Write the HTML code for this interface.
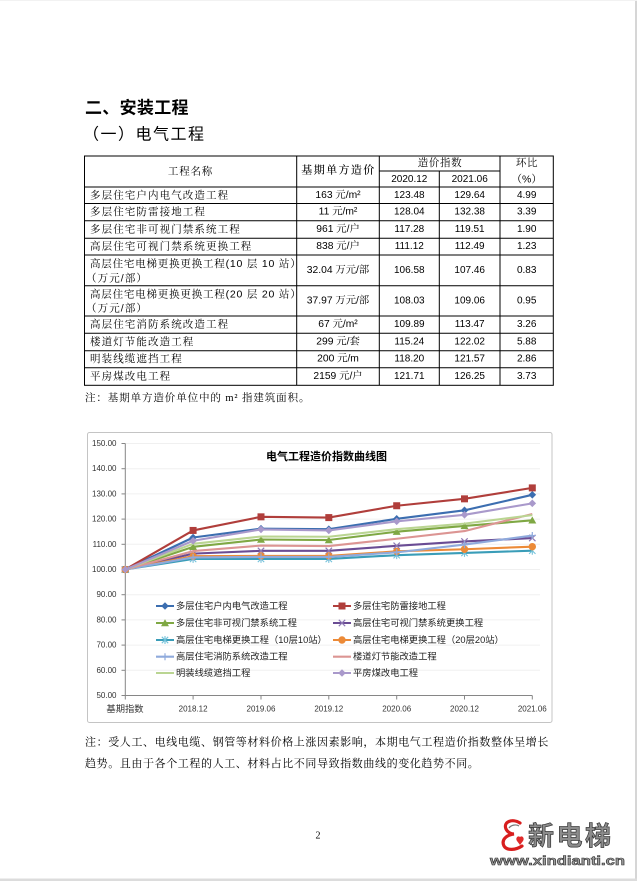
<!DOCTYPE html>
<html><head><meta charset="utf-8"><style>
html,body{margin:0;padding:0;background:#fff;}
svg{display:block;}
</style></head><body>
<svg width="637" height="881" viewBox="0 0 637 881" xmlns="http://www.w3.org/2000/svg">
<defs>
<marker id="m1" markerWidth="10" markerHeight="10" refX="5" refY="5" markerUnits="userSpaceOnUse"><path d="M5,1.2 L8.8,5 L5,8.8 L1.2,5Z" fill="#3C6EB0"/></marker>
<marker id="m2" markerWidth="10" markerHeight="10" refX="5" refY="5" markerUnits="userSpaceOnUse"><rect x="1.5" y="1.5" width="7" height="7" fill="#B03E3B"/></marker>
<marker id="m3" markerWidth="10" markerHeight="10" refX="5" refY="5" markerUnits="userSpaceOnUse"><path d="M5,1.2 L9,8.2 L1,8.2Z" fill="#7FA844"/></marker>
<marker id="m4" markerWidth="10" markerHeight="10" refX="5" refY="5" markerUnits="userSpaceOnUse"><path d="M1.8,1.8 L8.2,8.2 M8.2,1.8 L1.8,8.2" stroke="#8E79B5" stroke-width="1.2"/></marker>
<marker id="m5" markerWidth="10" markerHeight="10" refX="5" refY="5" markerUnits="userSpaceOnUse"><path d="M1.8,1.8 L8.2,8.2 M8.2,1.8 L1.8,8.2 M5,1 L5,9" stroke="#74C2DA" stroke-width="1.1"/></marker>
<marker id="m6" markerWidth="10" markerHeight="10" refX="5" refY="5" markerUnits="userSpaceOnUse"><circle cx="5" cy="5" r="3.7" fill="#EC8A37"/></marker>
<marker id="m7" markerWidth="10" markerHeight="10" refX="5" refY="5" markerUnits="userSpaceOnUse"><path d="M1.5,5 L8.5,5 M5,1.5 L5,8.5" stroke="#8FAADC" stroke-width="1.2"/></marker>
<marker id="m10" markerWidth="10" markerHeight="10" refX="5" refY="5" markerUnits="userSpaceOnUse"><path d="M5,1.2 L8.8,5 L5,8.8 L1.2,5Z" fill="#A999CB"/></marker>
</defs>

<!-- page border -->
<rect x="635" y="0" width="2" height="881" fill="#d6d6d6"/>
<rect x="0" y="878.5" width="637" height="2.5" fill="#dcdcdc"/>
<rect x="0" y="0" width="637" height="1" fill="#f2f2f2"/>

<!-- headings -->
<text x="85" y="108" dominant-baseline="central" font-family="Liberation Sans, Noto Sans CJK SC, sans-serif" font-size="17" font-weight="700" letter-spacing="0.3" fill="#000">二、安装工程</text>
<text x="83" y="135" dominant-baseline="central" font-family="Liberation Sans, Noto Sans CJK SC, sans-serif" font-size="16" font-weight="400" letter-spacing="1.5" fill="#000">（一）电气工程</text>

<!-- table lines -->
<g stroke="#000" stroke-width="1" fill="none">
<rect x="84.5" y="156" width="468.8" height="229.3"/>
<line x1="296.7" y1="156" x2="296.7" y2="385.3"/>
<line x1="379.3" y1="156" x2="379.3" y2="385.3"/>
<line x1="439.3" y1="171" x2="439.3" y2="385.3"/>
<line x1="500" y1="156" x2="500" y2="385.3"/>
<line x1="379.3" y1="171" x2="500" y2="171"/>
<line x1="84.5" y1="187" x2="553.3" y2="187"/>
<line x1="84.5" y1="203.5" x2="553.3" y2="203.5"/>
<line x1="84.5" y1="220.8" x2="553.3" y2="220.8"/>
<line x1="84.5" y1="238.3" x2="553.3" y2="238.3"/>
<line x1="84.5" y1="255" x2="553.3" y2="255"/>
<line x1="84.5" y1="285.7" x2="553.3" y2="285.7"/>
<line x1="84.5" y1="316" x2="553.3" y2="316"/>
<line x1="84.5" y1="333.3" x2="553.3" y2="333.3"/>
<line x1="84.5" y1="350.7" x2="553.3" y2="350.7"/>
<line x1="84.5" y1="367.7" x2="553.3" y2="367.7"/>
</g>

<!-- table header -->
<g font-family="Liberation Sans, Noto Serif CJK SC, serif" fill="#000" dominant-baseline="central">
<text x="190.5" y="171.5" font-size="10.5" letter-spacing="0.8" text-anchor="middle">工程名称</text>
<text x="338.5" y="170.5" font-size="11" letter-spacing="1.4" text-anchor="middle" font-weight="500">基期单方造价</text>
<text x="440" y="163" font-size="10.5" letter-spacing="0.6" text-anchor="middle">造价指数</text>
<text x="409.3" y="179.3" font-size="10" text-anchor="middle">2020.12</text>
<text x="469.7" y="179.3" font-size="10" text-anchor="middle">2021.06</text>
<text x="527" y="163" font-size="10.5" letter-spacing="0.6" text-anchor="middle">环比</text>
<text x="526.7" y="179.3" font-size="10.5" text-anchor="middle">（%）</text>
</g>

<!-- table body col1 -->
<g font-family="Liberation Sans, Noto Serif CJK SC, serif" font-size="10.5" letter-spacing="1.1" fill="#000" dominant-baseline="central">
<text x="90" y="195.3">多层住宅户内电气改造工程</text>
<text x="90" y="212.2">多层住宅防雷接地工程</text>
<text x="90" y="229.6">多层住宅非可视门禁系统工程</text>
<text x="90" y="246.7">高层住宅可视门禁系统更换工程</text>
<text x="90" y="264" letter-spacing="0.8">高层住宅电梯更换更换工程(10 层 10 站）</text>
<text x="86" y="278.3">（万元/部）</text>
<text x="90" y="294.5" letter-spacing="0.8">高层住宅电梯更换更换工程(20 层 20 站）</text>
<text x="86" y="308.7">（万元/部）</text>
<text x="90" y="324.7">高层住宅消防系统改造工程</text>
<text x="90" y="342">楼道灯节能改造工程</text>
<text x="90" y="359.2">明装线缆遮挡工程</text>
<text x="90" y="376.5">平房煤改电工程</text>
</g>
<!-- col2 -->
<g font-family="Liberation Sans, Noto Serif CJK SC, serif" font-size="10.3" fill="#000" text-anchor="middle" dominant-baseline="central">
<text x="338" y="195.3">163 元/m²</text>
<text x="338" y="212.2">11 元/m²</text>
<text x="338" y="229.6">961 元/户</text>
<text x="338" y="246.7">838 元/户</text>
<text x="338" y="270.5">32.04 万元/部</text>
<text x="338" y="301">37.97 万元/部</text>
<text x="338" y="324.7">67 元/m²</text>
<text x="338" y="342">299 元/套</text>
<text x="338" y="359.2">200 元/m</text>
<text x="338" y="376.5">2159 元/户</text>
</g>
<!-- numbers -->
<g font-family="Liberation Sans, sans-serif" font-size="10" fill="#000" text-anchor="middle" dominant-baseline="central">
<text x="409.3" y="195.3">123.48</text><text x="469.7" y="195.3">129.64</text><text x="526.7" y="195.3">4.99</text>
<text x="409.3" y="212.2">128.04</text><text x="469.7" y="212.2">132.38</text><text x="526.7" y="212.2">3.39</text>
<text x="409.3" y="229.6">117.28</text><text x="469.7" y="229.6">119.51</text><text x="526.7" y="229.6">1.90</text>
<text x="409.3" y="246.7">111.12</text><text x="469.7" y="246.7">112.49</text><text x="526.7" y="246.7">1.23</text>
<text x="409.3" y="270.5">106.58</text><text x="469.7" y="270.5">107.46</text><text x="526.7" y="270.5">0.83</text>
<text x="409.3" y="301">108.03</text><text x="469.7" y="301">109.06</text><text x="526.7" y="301">0.95</text>
<text x="409.3" y="324.7">109.89</text><text x="469.7" y="324.7">113.47</text><text x="526.7" y="324.7">3.26</text>
<text x="409.3" y="342">115.24</text><text x="469.7" y="342">122.02</text><text x="526.7" y="342">5.88</text>
<text x="409.3" y="359.2">118.20</text><text x="469.7" y="359.2">121.57</text><text x="526.7" y="359.2">2.86</text>
<text x="409.3" y="376.5">121.71</text><text x="469.7" y="376.5">126.25</text><text x="526.7" y="376.5">3.73</text>
</g>

<text x="85" y="398.5" dominant-baseline="central" font-family="Liberation Serif, Noto Serif CJK SC, serif" font-size="10.5" letter-spacing="0.9" fill="#000">注：基期单方造价单位中的 m² 指建筑面积。</text>

<!-- chart frame -->
<rect x="87.5" y="432.5" width="464.5" height="290" rx="2" fill="#fff" stroke="#c4c4c4" stroke-width="1"/>

<!-- gridlines -->
<g stroke="#f0f0f0" stroke-width="1">
<line x1="125.3" y1="443.5" x2="540" y2="443.5"/>
<line x1="125.3" y1="468.7" x2="540" y2="468.7"/>
<line x1="125.3" y1="493.9" x2="540" y2="493.9"/>
<line x1="125.3" y1="519.1" x2="540" y2="519.1"/>
<line x1="125.3" y1="544.3" x2="540" y2="544.3"/>
<line x1="125.3" y1="569.5" x2="540" y2="569.5"/>
<line x1="125.3" y1="594.7" x2="540" y2="594.7"/>
<line x1="125.3" y1="619.9" x2="540" y2="619.9"/>
<line x1="125.3" y1="645.1" x2="540" y2="645.1"/>
<line x1="125.3" y1="670.3" x2="540" y2="670.3"/>
</g>

<!-- axes -->
<g stroke="#868686" stroke-width="1">
<line x1="125.3" y1="443.5" x2="125.3" y2="695.5"/>
<line x1="125.3" y1="695.5" x2="532.3" y2="695.5"/>
<line x1="121.5" y1="443.5" x2="125.3" y2="443.5"/>
<line x1="121.5" y1="468.7" x2="125.3" y2="468.7"/>
<line x1="121.5" y1="493.9" x2="125.3" y2="493.9"/>
<line x1="121.5" y1="519.1" x2="125.3" y2="519.1"/>
<line x1="121.5" y1="544.3" x2="125.3" y2="544.3"/>
<line x1="121.5" y1="569.5" x2="125.3" y2="569.5"/>
<line x1="121.5" y1="594.7" x2="125.3" y2="594.7"/>
<line x1="121.5" y1="619.9" x2="125.3" y2="619.9"/>
<line x1="121.5" y1="645.1" x2="125.3" y2="645.1"/>
<line x1="121.5" y1="670.3" x2="125.3" y2="670.3"/>
<line x1="121.5" y1="695.5" x2="125.3" y2="695.5"/>
<line x1="125.3" y1="695.5" x2="125.3" y2="699.5"/>
<line x1="193.1" y1="695.5" x2="193.1" y2="699.5"/>
<line x1="261" y1="695.5" x2="261" y2="699.5"/>
<line x1="328.8" y1="695.5" x2="328.8" y2="699.5"/>
<line x1="396.7" y1="695.5" x2="396.7" y2="699.5"/>
<line x1="464.5" y1="695.5" x2="464.5" y2="699.5"/>
<line x1="532.3" y1="695.5" x2="532.3" y2="699.5"/>
</g>

<!-- y labels -->
<g font-family="Liberation Sans, sans-serif" font-size="8" fill="#333" text-anchor="end" dominant-baseline="central">
<text x="116.5" y="443.5">150.00</text>
<text x="116.5" y="468.7">140.00</text>
<text x="116.5" y="493.9">130.00</text>
<text x="116.5" y="519.1">120.00</text>
<text x="116.5" y="544.3">110.00</text>
<text x="116.5" y="569.5">100.00</text>
<text x="116.5" y="594.7">90.00</text>
<text x="116.5" y="619.9">80.00</text>
<text x="116.5" y="645.1">70.00</text>
<text x="116.5" y="670.3">60.00</text>
<text x="116.5" y="695.5">50.00</text>
</g>
<!-- x labels -->
<g font-family="Liberation Sans, Noto Sans CJK SC, sans-serif" font-size="8" fill="#333" text-anchor="middle" dominant-baseline="central">
<text x="125" y="709" font-size="9.3">基期指数</text>
<text x="193.1" y="709">2018.12</text>
<text x="261" y="709">2019.06</text>
<text x="328.8" y="709">2019.12</text>
<text x="396.7" y="709">2020.06</text>
<text x="464.5" y="709">2020.12</text>
<text x="532.3" y="709">2021.06</text>
</g>

<!-- title -->
<text x="326.5" y="457" text-anchor="middle" dominant-baseline="central" font-family="Liberation Sans, Noto Sans CJK SC, sans-serif" font-size="11" font-weight="700" fill="#000">电气工程造价指数曲线图</text>

<!-- series -->
<g fill="none" stroke-width="2.1" stroke-linejoin="round">
<polyline stroke="#3C6EB0" marker-start="url(#m1)" marker-mid="url(#m1)" marker-end="url(#m1)" points="125.3,569.5 193.1,537.5 261,528.7 328.8,529.2 396.7,518.85 464.5,510.33 532.3,494.81"/>
<polyline stroke="#B03E3B" marker-start="url(#m2)" marker-mid="url(#m2)" marker-end="url(#m2)" points="125.3,569.5 193.1,530.44 261,516.83 328.8,517.59 396.7,505.74 464.5,498.84 532.3,487.9"/>
<polyline stroke="#7FA844" marker-start="url(#m3)" marker-mid="url(#m3)" marker-end="url(#m3)" points="125.3,569.5 193.1,546.82 261,539.51 328.8,540.02 396.7,531.7 464.5,525.95 532.3,520.33"/>
<polyline stroke="#6A4C94" marker-start="url(#m4)" marker-mid="url(#m4)" marker-end="url(#m4)" points="125.3,569.5 193.1,553.62 261,550.85 328.8,550.85 396.7,545.81 464.5,541.48 532.3,538.03"/>
<polyline stroke="#3A9DB8" marker-start="url(#m5)" marker-mid="url(#m5)" marker-end="url(#m5)" points="125.3,569.5 193.1,558.92 261,558.92 328.8,558.92 396.7,555.14 464.5,552.92 532.3,550.7"/>
<polyline stroke="#EC8A37" marker-start="url(#m6)" marker-mid="url(#m6)" marker-end="url(#m6)" points="125.3,569.5 193.1,556.14 261,555.89 328.8,555.89 396.7,551.36 464.5,549.26 532.3,546.67"/>
<polyline stroke="#8FAADC" marker-start="url(#m7)" marker-mid="url(#m7)" marker-end="url(#m7)" points="125.3,569.5 193.1,557.4 261,556.9 328.8,556.9 396.7,552.36 464.5,544.58 532.3,535.56"/>
<polyline stroke="#DC9593" points="125.3,569.5 193.1,551.1 261,545.56 328.8,546.06 396.7,538.76 464.5,531.1 532.3,514.01"/>
<polyline stroke="#BAD592" points="125.3,569.5 193.1,543.8 261,536.49 328.8,536.74 396.7,529.18 464.5,523.64 532.3,515.14"/>
<polyline stroke="#A999CB" marker-start="url(#m10)" marker-mid="url(#m10)" marker-end="url(#m10)" points="125.3,569.5 193.1,540.77 261,529.43 328.8,530.44 396.7,521.37 464.5,514.79 532.3,503.35"/>
</g>

<!-- legend -->
<g fill="none" stroke-width="2.1">
<polyline stroke="#3C6EB0" marker-mid="url(#m1)" points="156,606 165,606 174,606"/>
<polyline stroke="#B03E3B" marker-mid="url(#m2)" points="333,606 342,606 351,606"/>
<polyline stroke="#7FA844" marker-mid="url(#m3)" points="156,623 165,623 174,623"/>
<polyline stroke="#6A4C94" marker-mid="url(#m4)" points="333,623 342,623 351,623"/>
<polyline stroke="#3A9DB8" marker-mid="url(#m5)" points="156,640 165,640 174,640"/>
<polyline stroke="#EC8A37" marker-mid="url(#m6)" points="333,640 342,640 351,640"/>
<polyline stroke="#8FAADC" marker-mid="url(#m7)" points="156,656.7 165,656.7 174,656.7"/>
<polyline stroke="#DC9593" points="333,656.7 351,656.7"/>
<polyline stroke="#BAD592" points="156,673 174,673"/>
<polyline stroke="#A999CB" marker-mid="url(#m10)" points="333,673 342,673 351,673"/>
</g>
<g font-family="Liberation Sans, Noto Sans CJK SC, sans-serif" font-size="9.3" fill="#222" dominant-baseline="central">
<text x="176" y="606">多层住宅户内电气改造工程</text>
<text x="353" y="606">多层住宅防雷接地工程</text>
<text x="176" y="623">多层住宅非可视门禁系统工程</text>
<text x="353" y="623">高层住宅可视门禁系统更换工程</text>
<text x="176" y="640">高层住宅电梯更换工程（10层10站）</text>
<text x="353" y="640">高层住宅电梯更换工程（20层20站）</text>
<text x="176" y="656.7">高层住宅消防系统改造工程</text>
<text x="353" y="656.7">楼道灯节能改造工程</text>
<text x="176" y="673">明装线缆遮挡工程</text>
<text x="353" y="673">平房煤改电工程</text>
</g>

<!-- bottom notes -->
<g font-family="Liberation Serif, Noto Serif CJK SC, serif" font-size="11" letter-spacing="0.6" fill="#000" dominant-baseline="central">
<text x="85" y="742.5">注：受人工、电线电缆、钢管等材料价格上涨因素影响，本期电气工程造价指数整体呈增长</text>
<text x="85" y="764">趋势。且由于各个工程的人工、材料占比不同导致指数曲线的变化趋势不同。</text>
</g>

<text x="318" y="836" text-anchor="middle" dominant-baseline="central" font-family="Liberation Serif, serif" font-size="10" fill="#000">2</text>

<!-- logo -->
<g>
<path d="M520,823 C512,818 503,822 506,829 C508,833 512,834 514,834 C506,835 501,840 504,846 C507,851 516,850 522,846" fill="none" stroke="#d81e1e" stroke-width="3.2" stroke-linecap="round"/>
<path d="M509,828 C511,825 516,824 519,826" fill="none" stroke="#777" stroke-width="1.2"/>
<path d="M517,841 C515,838 518,835 520,837 C522,835 525,838 523,841 L520,845Z" fill="#e02a2a"/>
<text x="528" y="836" dominant-baseline="central" font-family="Liberation Sans, Noto Sans CJK SC, sans-serif" font-size="26" font-weight="700" letter-spacing="2.5" fill="#8c8c8c" stroke="#333" stroke-width="0.7">新电梯</text>
<text x="490" y="860.5" dominant-baseline="central" font-family="Liberation Sans, sans-serif" font-size="13" font-weight="700" textLength="135" lengthAdjust="spacingAndGlyphs" fill="#a0a0a0" stroke="#333" stroke-width="0.6">www.xindianti.cn</text>
</g>
</svg>
</body></html>
